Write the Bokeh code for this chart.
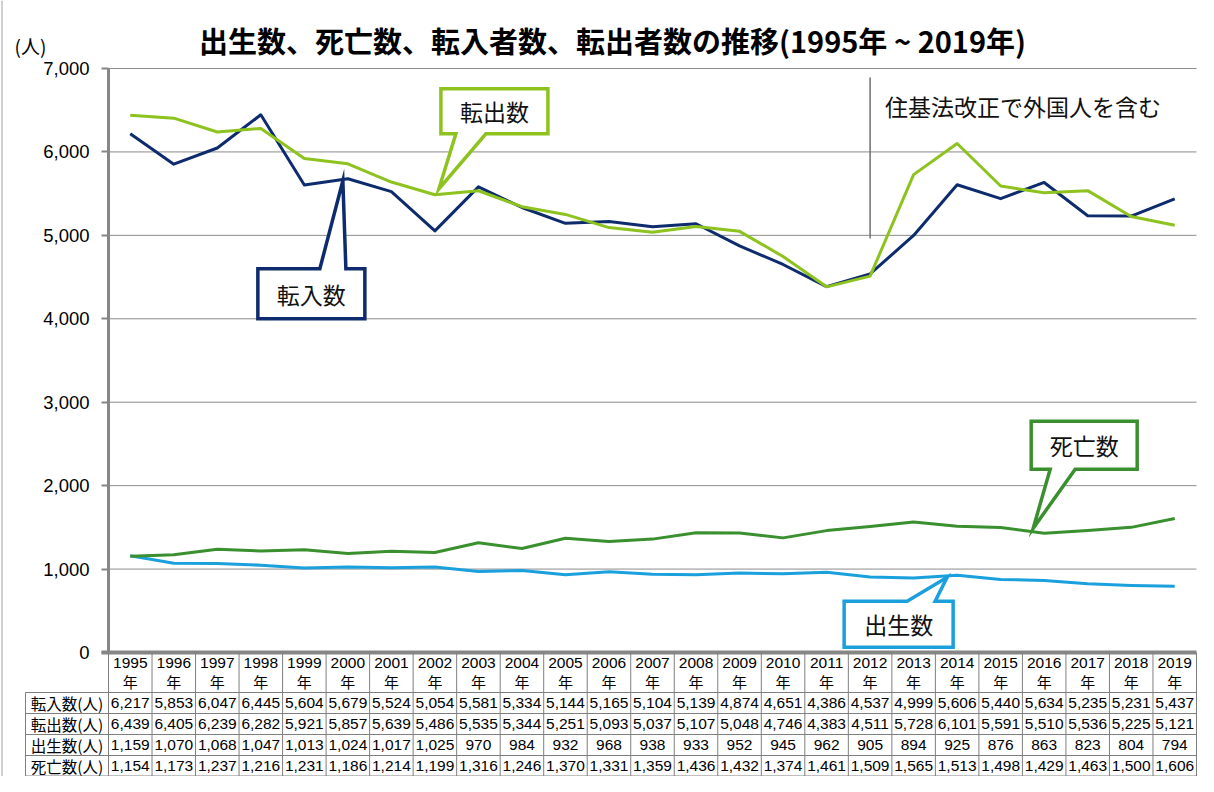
from bokeh.plotting import figure
from bokeh.models import Range1d, LinearAxis, SingleIntervalTicker, NumeralTickFormatter
from bokeh.core.properties import value
from bokeh.embed import file_html
from bokeh.resources import INLINE

# ---------------- data ----------------
years = list(range(1995, 2020))
year_labels = [str(y) for y in years]
tennyu = [6217, 5853, 6047, 6445, 5604, 5679, 5524, 5054, 5581, 5334, 5144, 5165, 5104,
          5139, 4874, 4651, 4386, 4537, 4999, 5606, 5440, 5634, 5235, 5231, 5437]
tenshutsu = [6439, 6405, 6239, 6282, 5921, 5857, 5639, 5486, 5535, 5344, 5251, 5093, 5037,
             5107, 5048, 4746, 4383, 4511, 5728, 6101, 5591, 5510, 5536, 5225, 5121]
shussei = [1159, 1070, 1068, 1047, 1013, 1024, 1017, 1025, 970, 984, 932, 968, 938,
           933, 952, 945, 962, 905, 894, 925, 876, 863, 823, 804, 794]
shibou = [1154, 1173, 1237, 1216, 1231, 1186, 1214, 1199, 1316, 1246, 1370, 1331, 1359,
          1436, 1432, 1374, 1461, 1509, 1565, 1513, 1498, 1429, 1463, 1500, 1606]
row_labels = ["転入数(人)", "転出数(人)", "出生数(人)", "死亡数(人)"]
y_ticks = [0, 1000, 2000, 3000, 4000, 5000, 6000, 7000]
title_text = "出生数、死亡数、転入者数、転出者数の推移(1995年 ~ 2019年)"
note_text = "住基法改正で外国人を含む"
note_year = 2012

# ---------------- styling ----------------
NAVY = "#0E2B6E"
LIME = "#8DC21F"
DGREEN = "#3A8F2F"
SKY = "#1AA0DC"
GRID = "#8C8C8C"
AXIS = "#868686"
TABLE = "#7F7F7F"
JP = value("Noto Sans CJK JP")
EN = value("Liberation Sans")

W, H = 1198, 776
LEFT = 108            # pixel position of the plot's left edge
ZERO = 652            # pixel position of the value 0
UX = 1 / 43.52        # data units per pixel (x)
UY = 7000 / 584.0     # data units per pixel (y)

idx = list(range(len(years)))

p = figure(width=W, height=H,
           x_range=Range1d(-0.5 - LEFT * UX, -0.5 + (W - LEFT) * UX),
           y_range=Range1d(-(H - ZERO) * UY, ZERO * UY),
           output_backend="svg", toolbar_location=None, min_border=0,
           x_axis_type=None, y_axis_type=None)
p.outline_line_color = None
p.background_fill_color = "white"

# outer left border
bx = -0.5 - (LEFT - 1.5) * UX
p.segment(x0=[bx], x1=[bx], y0=[-(H - ZERO) * UY], y1=[ZERO * UY], line_color="#a0a0a0", line_width=1)

# horizontal gridlines
gl = y_ticks[1:]
p.segment(x0=[-0.5] * len(gl), x1=[24.5] * len(gl), y0=gl, y1=gl, line_color=GRID, line_width=1)

# y axis
yax = LinearAxis(fixed_location=-0.5, bounds=(0, 7000),
                 ticker=SingleIntervalTicker(interval=1000),
                 formatter=NumeralTickFormatter(format="0,0"))
yax.axis_line_color = AXIS
yax.axis_line_width = 3
yax.major_tick_line_color = AXIS
yax.major_tick_line_width = 2
yax.major_tick_out = 7
yax.major_tick_in = 0
yax.minor_tick_line_color = None
yax.major_label_text_font = "Liberation Sans"
yax.major_label_text_font_size = "18.5px"
yax.major_label_text_color = "#000000"
yax.major_label_standoff = 12
p.add_layout(yax, "left")

# x axis baseline
p.segment(x0=[-0.5 - 7 * UX], x1=[24.5], y0=[0], y1=[0], line_color=AXIS, line_width=4)

# series lines
p.line(idx, tennyu, line_color=NAVY, line_width=3, line_join="round")
p.line(idx, tenshutsu, line_color=LIME, line_width=3, line_join="round")
p.line(idx, shussei, line_color=SKY, line_width=3, line_join="round")
p.line(idx, shibou, line_color=DGREEN, line_width=3, line_join="round")

# note line and text
ni = years.index(note_year)
p.segment(x0=[ni], x1=[ni], y0=[4962], y1=[6892], line_color="#6f6f6f", line_width=1.5)
p.text(x=[ni + 15 * UX], y=[6556], text=[note_text], text_font=JP, text_font_size="23px",
       text_align="left", text_baseline="middle", text_color="#111111")


def callout(year, series, poly, center, label, color):
    i = years.index(year)
    v = series[i]
    xs = [i + dx * UX for dx, dy in poly]
    ys = [v - dy * UY for dx, dy in poly]
    p.patch(xs, ys, fill_color="white", line_color=color, line_width=3.5, line_join="miter")
    p.text(x=[i + center[0] * UX], y=[v - center[1] * UY], text=[label], text_font=JP,
           text_font_size="23px", text_align="center", text_baseline="middle", text_color="#111111")


callout(2002, tenshutsu,
        [(6, -106), (113, -106), (113, -61), (51, -61), (4, -6), (21, -61), (6, -61)],
        (59.5, -83.5), "転出数", LIME)
callout(2000, tennyu,
        [(-90, 90), (-28, 90), (-5, 2), (-2, 90), (17, 90), (17, 140), (-90, 140)],
        (-36.5, 115), "転入数", NAVY)
callout(2016, shibou,
        [(-13, -112), (93, -112), (93, -64), (31, -64), (-11, -5), (6, -64), (-13, -64)],
        (40, -88), "死亡数", DGREEN)
callout(2014, shussei,
        [(-113, 26), (-50, 26), (-10, 2), (-22, 26), (-4, 26), (-4, 72), (-113, 72)],
        (-58.5, 49), "出生数", SKY)

# title and unit
p.text(x=[-0.5 + (612 - LEFT) * UX], y=[(ZERO - 39) * UY], text=[title_text], text_font=JP,
       text_font_style="bold", text_font_size="29px", text_align="center", text_baseline="middle",
       text_color="#000000")
p.text(x=[-0.5 - 78 * UX], y=[(ZERO - 45) * UY], text=["(人)"], text_font=JP, text_font_size="19px",
       text_align="center", text_baseline="middle", text_color="#000000")

# ---------------- data table ----------------
row_px = [692, 713, 734, 755, 775.5]
row_bounds = [-(r - ZERO) * UY for r in row_px]
row_centers = [(row_bounds[k] + row_bounds[k + 1]) / 2 for k in range(4)]
lab_left = -0.5 - 83 * UX

# vertical lines of year columns
cols = [k - 0.5 for k in range(len(years) + 1)]
p.segment(x0=cols, x1=cols, y0=[0] * len(cols), y1=[row_bounds[-1]] * len(cols),
          line_color=TABLE, line_width=1)
# label column left border
p.segment(x0=[lab_left], x1=[lab_left], y0=[row_bounds[0]], y1=[row_bounds[-1]],
          line_color=TABLE, line_width=1)
# horizontal lines
p.segment(x0=[lab_left] * len(row_bounds), x1=[24.5] * len(row_bounds),
          y0=row_bounds, y1=row_bounds, line_color=TABLE, line_width=1)

# header
p.text(x=idx, y=[-(662.5 - ZERO) * UY] * len(idx), text=year_labels, text_font=EN,
       text_font_size="15.5px", text_align="center", text_baseline="middle", text_color="#000000")
p.text(x=idx, y=[-(681 - ZERO) * UY] * len(idx), text=["年"] * len(idx), text_font=JP,
       text_font_size="15px", text_align="center", text_baseline="middle", text_color="#000000")

lab_center = (lab_left - 0.5) / 2
for k, series in enumerate([tennyu, tenshutsu, shussei, shibou]):
    p.text(x=[lab_center], y=[row_centers[k]], text=[row_labels[k]], text_font=JP,
           text_font_size="15.5px", text_align="center", text_baseline="middle", text_color="#000000")
    p.text(x=idx, y=[row_centers[k]] * len(idx), text=[f"{v:,}" for v in series], text_font=EN,
           text_font_size="15.5px", text_align="center", text_baseline="middle", text_color="#000000")

open("out.html", "w").write(file_html(p, INLINE))
